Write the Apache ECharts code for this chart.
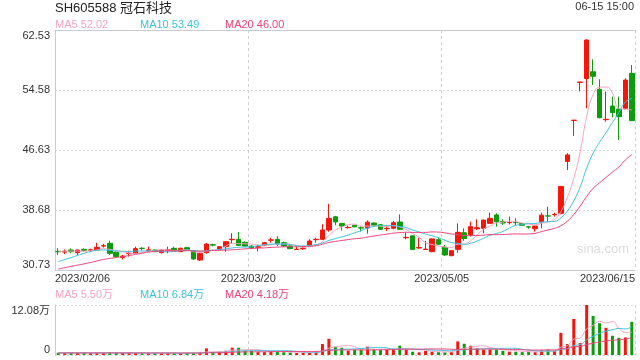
<!DOCTYPE html>
<html><head><meta charset="utf-8">
<script src="https://cdn.jsdelivr.net/npm/echarts@6/dist/echarts.min.js"></script>
<style>html,body{margin:0;padding:0;background:#fff}#c{width:640px;height:360px}</style>
</head><body><div id="c"></div>
<script>
const dates = [
'2023/02/06','2023/02/07','2023/02/08','2023/02/09','2023/02/10','2023/02/13','2023/02/14','2023/02/15','2023/02/16','2023/02/17',
'2023/02/20','2023/02/21','2023/02/22','2023/02/23','2023/02/24','2023/02/27','2023/02/28','2023/03/01','2023/03/02','2023/03/03',
'2023/03/06','2023/03/07','2023/03/08','2023/03/09','2023/03/10','2023/03/13','2023/03/14','2023/03/15','2023/03/16','2023/03/17',
'2023/03/20','2023/03/21','2023/03/22','2023/03/23','2023/03/24','2023/03/27','2023/03/28','2023/03/29','2023/03/30','2023/03/31',
'2023/04/03','2023/04/04','2023/04/06','2023/04/07','2023/04/10','2023/04/11','2023/04/12','2023/04/13','2023/04/14','2023/04/17',
'2023/04/18','2023/04/19','2023/04/20','2023/04/21','2023/04/24','2023/04/25','2023/04/26','2023/04/27','2023/04/28','2023/05/04',
'2023/05/05','2023/05/08','2023/05/09','2023/05/10','2023/05/11','2023/05/12','2023/05/15','2023/05/16','2023/05/17','2023/05/18',
'2023/05/19','2023/05/22','2023/05/23','2023/05/24','2023/05/25','2023/05/26','2023/05/29','2023/05/30','2023/05/31','2023/06/01',
'2023/06/02','2023/06/05','2023/06/06','2023/06/07','2023/06/08','2023/06/09','2023/06/12','2023/06/13','2023/06/14','2023/06/15'];

const openP = [
33.20,33.10,33.38,33.03,33.47,33.35,33.38,33.90,34.26,33.07,
32.41,32.90,32.94,33.62,33.30,33.38,33.03,33.35,33.60,33.16,
33.69,33.29,32.05,33.03,34.08,33.51,33.82,34.75,34.80,34.40,
33.90,33.75,34.00,34.68,34.79,34.35,33.91,33.45,33.55,34.00,
34.75,34.79,36.03,37.78,36.90,36.34,36.67,36.33,36.30,36.95,
36.73,36.20,36.25,37.09,35.00,35.26,33.65,33.45,33.16,34.75,
33.73,32.63,33.47,35.67,35.37,36.20,36.25,36.91,38.02,37.13,
37.00,37.05,36.90,36.45,36.20,37.13,37.90,38.05,38.24,45.12,
50.55,55.60,56.10,57.00,54.67,50.65,52.46,52.06,52.15,56.79];
const closeP = [
33.15,33.20,33.16,33.38,33.29,33.40,33.73,33.95,32.94,32.50,
32.58,32.95,33.56,33.58,33.40,33.16,33.38,33.40,33.25,33.60,
33.38,32.19,32.94,34.17,34.03,33.82,34.48,34.80,34.00,33.90,
33.65,33.80,34.35,34.72,34.20,33.91,33.56,33.48,33.60,34.57,
34.80,36.03,37.57,37.10,36.56,36.38,36.45,36.28,37.07,36.67,
36.12,36.25,37.00,36.12,35.05,33.43,33.70,33.50,34.85,34.15,
32.72,33.29,35.72,34.90,36.47,36.34,37.35,37.57,37.13,36.95,
37.02,37.00,36.65,36.42,36.56,38.00,37.88,38.10,41.80,45.98,
50.58,55.64,61.20,56.40,50.91,50.70,51.58,51.05,55.90,50.52];
const lowP = [
32.70,32.85,32.94,32.72,33.16,33.20,33.35,33.70,32.72,32.40,
32.14,32.50,32.85,33.29,33.16,33.10,32.94,32.94,33.20,33.10,
33.30,32.10,31.95,32.90,33.85,33.40,33.16,34.26,33.95,33.80,
33.50,33.20,33.90,34.35,33.91,33.80,33.50,33.38,33.38,33.90,
34.35,34.70,35.80,36.67,35.95,36.20,36.40,35.85,35.55,36.60,
36.05,35.90,36.12,36.10,34.80,33.40,33.55,33.38,33.10,34.04,
32.60,32.55,33.03,34.60,35.15,36.03,35.60,36.90,36.47,36.69,
36.78,36.69,36.55,36.20,35.80,36.25,37.13,37.80,38.10,43.98,
48.50,54.40,52.15,55.24,50.83,50.38,50.96,47.95,52.02,50.52];
const highP = [
33.60,33.45,33.60,33.45,33.60,33.55,34.35,34.20,34.60,33.20,
32.72,33.30,33.82,33.73,33.82,33.45,33.45,33.82,33.82,33.70,
33.80,33.40,33.00,34.30,34.20,33.90,34.50,35.60,35.76,34.50,
34.00,34.10,34.45,35.00,35.20,34.50,34.00,33.82,33.91,34.80,
35.00,36.80,39.50,37.90,36.95,36.60,36.70,36.50,37.30,37.00,
36.78,36.65,37.22,38.10,35.70,35.30,35.00,34.57,34.90,35.06,
34.04,33.35,36.90,36.25,37.13,37.44,37.40,38.33,38.24,37.44,
37.80,37.58,36.95,36.50,36.56,38.33,39.10,38.33,41.86,46.20,
50.58,55.64,61.30,58.64,56.00,54.36,53.70,53.70,56.13,57.90];
// closes of the 19 sessions before the window (estimated from where the MA curves start)
const prevCloses = [29.6,29.8,29.9,30.1,29.8,29.7,30.0,30.2,29.9,30.0,30.3,30.5,30.4,30.7,30.9,32.4,33.2,33.3,33.3];

// volume in 万
const volumes = [
0.55,0.50,0.50,0.50,0.50,0.45,0.50,0.50,0.60,0.50,
0.50,0.45,0.50,0.45,0.40,0.45,0.45,0.45,0.50,0.45,
0.50,0.50,0.60,1.60,0.60,0.80,1.00,1.76,1.76,1.04,
1.04,0.70,0.70,0.80,0.90,0.70,0.60,0.50,0.50,0.60,
0.60,2.64,3.92,2.00,1.76,1.04,1.28,1.28,2.00,1.28,
1.28,1.28,1.40,2.24,1.28,0.80,0.64,1.00,0.80,0.70,
0.64,0.70,3.28,2.72,2.24,1.60,1.30,1.30,1.30,1.00,
0.80,0.80,0.70,0.80,0.70,1.10,1.30,1.00,5.36,2.64,
8.72,2.88,12.08,9.44,7.68,6.56,4.64,4.16,4.24,8.00];
const prevVolumes = [0.5,0.5,0.5,0.5,0.5,0.5,0.5,0.5,0.5,0.5,0.5,0.5,0.5,0.5,0.5,0.5,0.5,0.5,0.5];

const priceTicks = ['30.73','38.68','46.63','54.58','62.53'];
const priceRange = [30.73, 62.53];
const volTicks = ['0','12.08万'];
const volRange = [0, 12.08];
const titleText = 'SH605588 冠石科技';
const timeText = '06-15 15:00';
const priceLegend = ['MA5 52.02','MA10 53.49','MA20 46.00'];
const volLegend = ['MA5 5.50万','MA10 6.84万','MA20 4.18万'];

const UP = '#f5150b', DOWN = '#0c9c0c';
const MA_COLORS = ['#f7a3c0', '#3bc3de', '#ee4278'];
const FONT = '"Liberation Sans", Arial, "Noto Sans CJK SC", sans-serif';

function movingAvg(series, prev, n) {
  const all = prev.concat(series);
  return series.map((_, i) => {
    const end = prev.length + i;
    let s = 0;
    for (let k = end - n + 1; k <= end; k++) s += all[k];
    return +(s / n).toFixed(3);
  });
}

const chart = echarts.init(document.getElementById('c'), null, {renderer: 'canvas'});
const splitV = {show: true, interval: (i) => i === 30 || i === 60, lineStyle: {color: '#cfcfcf', type: [3, 3], width: 1}};
const lblBase = {fontSize: 11, color: '#333', fontFamily: FONT};

function labelXAxis(filter, align) {
  return {type: 'value', gridIndex: 0, position: 'bottom', min: 0, max: 90, interval: 30,
    axisLine: {show: false}, axisTick: {show: false}, splitLine: {show: false},
    axisLabel: Object.assign({}, lblBase, {showMinLabel: true, showMaxLabel: true, margin: 3, align: align,
      formatter: (v) => filter(v) ? dates[Math.min(v, dates.length - 1)] : ''})};
}
function labelYAxis(grid, max, labels, filter, vAlign, withLines) {
  return {type: 'value', gridIndex: grid, position: 'left', min: 0, max: max, interval: 1,
    axisLine: {show: !!withLines, lineStyle: {color: '#cccccc'}}, axisTick: {show: false},
    splitLine: {show: !!withLines, lineStyle: {color: '#d9d9d9', type: [2, 2]}},
    axisLabel: Object.assign({}, lblBase, {showMinLabel: true, showMaxLabel: true, margin: 5, verticalAlign: vAlign,
      formatter: (v) => filter(v) ? labels[v] : ''})};
}

const names = ['MA5', 'MA10', 'MA20'];
const periods = [5, 10, 20];
const series = [{
  type: 'candlestick', xAxisIndex: 0, yAxisIndex: 0, barWidth: 5,
  data: dates.map((_, i) => [openP[i], closeP[i], lowP[i], highP[i]]),
  itemStyle: {color: UP, color0: DOWN, borderColor: UP, borderColor0: DOWN, borderWidth: 1}
}];
periods.forEach((n, k) => series.push({
  type: 'line', name: names[k], xAxisIndex: 0, yAxisIndex: 0, showSymbol: false, smooth: true,
  data: movingAvg(closeP, prevCloses, n), lineStyle: {width: 1, color: MA_COLORS[k]}, z: 5
}));
series.push({
  type: 'bar', xAxisIndex: 5, yAxisIndex: 4, barWidth: 3,
  data: volumes.map((v, i) => ({value: v, itemStyle: {color: closeP[i] >= openP[i] ? UP : DOWN}}))
});
periods.forEach((n, k) => series.push({
  type: 'line', xAxisIndex: 5, yAxisIndex: 4, showSymbol: false, smooth: true,
  data: movingAvg(volumes, prevVolumes, n), lineStyle: {width: 1, color: MA_COLORS[k]}, z: 5
}));

const graphics = [
  {type: 'text', x: 55, y: 8, style: {text: titleText, font: '13px ' + FONT, fill: '#222', verticalAlign: 'middle'}},
  {type: 'text', x: 634, y: 7, style: {text: timeText, font: '11px ' + FONT, fill: '#333', align: 'right', verticalAlign: 'middle'}},
  {type: 'text', x: 603, y: 249, style: {text: 'sina.com', font: '13px ' + FONT, fill: '#dcdcdc', align: 'center', verticalAlign: 'middle'}}
];
const legendX = [55, 140, 225];
priceLegend.forEach((t, k) => graphics.push({type: 'text', x: legendX[k], y: 24.5,
  style: {text: t, font: '11px ' + FONT, fill: MA_COLORS[k], verticalAlign: 'middle'}}));
volLegend.forEach((t, k) => graphics.push({type: 'text', x: legendX[k], y: 295,
  style: {text: t, font: '11px ' + FONT, fill: MA_COLORS[k], verticalAlign: 'middle'}}));

chart.setOption({
  animation: false,
  backgroundColor: '#fff',
  grid: [
    {left: 55, right: 5, top: 30, height: 240},
    {left: 55, right: 5, top: 305, height: 50}
  ],
  xAxis: [
    {type: 'category', gridIndex: 0, position: 'bottom', data: dates, boundaryGap: true,
      axisLine: {show: true, lineStyle: {color: '#cccccc'}}, axisTick: {show: false}, axisLabel: {show: false}, splitLine: splitV},
    labelXAxis((v) => v === 30 || v === 60, 'center'),
    labelXAxis((v) => v === 0, 'left'),
    labelXAxis((v) => v === 90, 'right'),
    {type: 'value', gridIndex: 0, position: 'top', min: 0, max: 90,
      axisLine: {show: true, lineStyle: {color: '#cccccc'}}, axisTick: {show: false}, axisLabel: {show: false}, splitLine: {show: false}},
    {type: 'category', gridIndex: 1, position: 'bottom', data: dates, boundaryGap: true,
      axisLine: {show: false}, axisTick: {show: false}, axisLabel: {show: false}, splitLine: splitV}
  ],
  yAxis: [
    {type: 'value', gridIndex: 0, min: priceRange[0], max: priceRange[1], show: false},
    labelYAxis(0, 4, priceTicks, (v) => v > 0 && v < 4, 'middle', true),
    labelYAxis(0, 4, priceTicks, (v) => v === 4, 'top', false),
    labelYAxis(0, 4, priceTicks, (v) => v === 0, 'bottom', false),
    {type: 'value', gridIndex: 1, min: volRange[0], max: volRange[1], show: false},
    labelYAxis(1, 1, volTicks, (v) => v === 1, 'top', true),
    labelYAxis(1, 1, volTicks, (v) => v === 0, 'bottom', false)
  ],
  series: series,
  graphic: graphics
});
</script>
</body></html>
